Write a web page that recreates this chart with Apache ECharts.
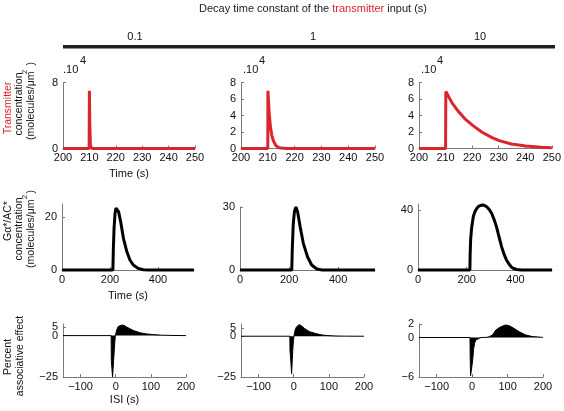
<!DOCTYPE html>
<html><head><meta charset="utf-8">
<script src="https://cdn.jsdelivr.net/npm/echarts@6/dist/echarts.min.js"></script>
<style>html,body{margin:0;padding:0;background:#fff}#c{width:564px;height:411px}</style>
</head><body><div id="c"></div>
<script>
// ---------- data ----------
const decayLabels = ['0.1', '1', '10'];

// Row 1: transmitter concentration (x10^4 molecules/um^2) vs time (s)
const transTau01 = [[200,0],[209.9,0],[210,7],[210.15,3],[210.4,0.3],[211,0],[250,0]];
const transTau1 = [[200,0],[210,0],[210.05,7],[210.5,4.3],[211,2.6],[211.5,1.6],[212,1],[213,0.35],[214,0.13],[215,0.05],[217,0],[250,0]];
const transTau10 = [[200,0],[210,0],[210.1,6.9],[212.3,5.6],[214.8,4.5],[217.3,3.6],[220.2,2.8],[223.6,2.0],[227.3,1.35],[230.2,0.95],[234.8,0.55],[240.2,0.3],[246,0.14],[250,0.08]];

// Row 2: G alpha*/AC* concentration vs time (s)
const gacTau01 = [[0,0],[212,0],[214,8],[217,16],[221,21.4],[225,23.5],[230,24],[236,22],[245,18],[256,12],[270,7],[283,3.8],[297,1.9],[318,0.6],[339,0.1],[360,0],[550,0]];
const gacTau1 = [[0,0],[211,0],[213,10],[217,22],[222,28],[228,30],[235,27.5],[245,20.6],[258,12.7],[275,6.3],[292,2.4],[313,0.5],[335,0],[550,0]];
const gacTau10 = [[0,0],[213,0],[214,10],[216,20],[220,28],[227,35.6],[234,39],[241,41],[250,42.6],[261,43.3],[272,43.1],[282,42.2],[292,40.4],[302,37.8],[312,33.8],[322,28.9],[332,22.5],[343,15.6],[353,10.6],[363,6.7],[374,3.8],[384,1.8],[394,0.8],[404,0.3],[425,0],[550,0]];

// Row 3: percent associative effect vs ISI (s)
const assocTau01 = [[-150,0],[-13,0],[-12.5,-15],[-9,-25],[-6,-15],[-3,-5],[-1,0],[3,3.5],[7,5.5],[12,6.3],[17,6.4],[24,6.1],[31,5.2],[50,3.1],[69,1.7],[88,1.0],[107,0.6],[130,0.25],[160,0.08],[200,0]];
const assocTau1 = [[-150,0],[-11,0],[-10.5,-9],[-8,-16],[-6,-23],[-4,-14],[-2,-6],[0,-1],[1,0],[3,3],[7,5.5],[11,6.7],[15,7.1],[22,6.4],[31,4.7],[45,2.8],[63,1.6],[80,0.8],[95,0.4],[120,0.15],[150,0.03],[200,0]];
const assocTau10 = [[-150,0],[-6,0],[-5.5,-3],[-4.5,-5.8],[-3,-5.9],[-1,-4.5],[2,-3.2],[4,-1.8],[7,-0.85],[11,-0.35],[16,-0.1],[25,0],[40,0.02],[48,0.1],[58,0.4],[67,1.15],[80,1.6],[94,1.9],[104,1.8],[113,1.55],[132,0.9],[150,0.4],[169,0.15],[196,0.03],[200,0]];

// tick labels
const timeTicksZoom = [200,210,220,230,240,250];
const timeTicksFull = [0,200,400];
const isiTicks = [-100,0,100,200];
const transYTicks01 = [0,8];
const transYTicks = [0,2,4,6,8];
const gacYTicks = [[0,20],[0,30],[0,40]];
const assocYTicks = [[-25,0,5],[-25,0,5],[-6,0,2]];

// ---------- layout ----------
const FONT = 'Liberation Sans, Arial, Helvetica, sans-serif';
const RED = '#d9252b';
const AXC = '#7a7a7a';
const minus = v => String(v).replace('-', '\u2212');
const cols = [
  {r1:[63,132], r2:[62,132], r3:[63,123]},
  {r1:[241,134], r2:[240,135], r3:[241,123]},
  {r1:[419,133], r2:[418,134], r3:[419,124]}
];
const grids = [], xAxes = [], yAxes = [], series = [];
function yLabelAxis(gi, yr, values, showAxis) {
  return {
    type: 'value', gridIndex: gi, min: yr[0], max: yr[1], position: 'left',
    axisLine: {show: showAxis, onZero: false, lineStyle: {color: AXC, width: 1}},
    axisTick: {show: showAxis, inside: true, length: 3, customValues: values, lineStyle: {color: AXC}},
    axisLabel: {customValues: values, fontSize: 11, color: '#111', margin: 5, fontFamily: FONT,
      hideOverlap: false, showMinLabel: true, showMaxLabel: true, formatter: minus},
    splitLine: {show: false}
  };
}
function addPanel(left, width, top, height, xr, xt, yr, yt, data, style, xname, gap) {
  const gi = grids.length;
  grids.push({left: left, top: top, width: width, height: height, containLabel: false});
  xAxes.push({
    type: 'value', gridIndex: gi, min: xr[0], max: xr[1],
    name: xname || '', nameLocation: 'middle', nameGap: gap || 20,
    nameTextStyle: {fontSize: 11, color: '#111', fontFamily: FONT},
    axisLine: {onZero: false, lineStyle: {color: AXC, width: 1}},
    axisTick: {inside: true, length: 3, customValues: xt, lineStyle: {color: AXC}},
    axisLabel: {customValues: xt, fontSize: 11, color: '#111', margin: 4, fontFamily: FONT,
      hideOverlap: false, showMinLabel: true, showMaxLabel: true, formatter: minus},
    splitLine: {show: false}
  });
  const yi = yAxes.length;
  // main axis carries all ticks; labels that would collide get their own label-only axis
  const crowded = yt.length === 3 && yt[2] - yt[1] < (yr[1] - yr[0]) / 5;
  if (crowded) {
    const main = yLabelAxis(gi, yr, yt.filter(v => v !== 0), true);
    main.axisTick.customValues = yt;
    yAxes.push(main);
    yAxes.push(yLabelAxis(gi, yr, [0], false));
  } else {
    yAxes.push(yLabelAxis(gi, yr, yt, true));
  }
  series.push(Object.assign({
    type: 'line', xAxisIndex: gi, yAxisIndex: yi, data: data,
    symbol: 'none', showSymbol: false, animation: false, silent: true
  }, style));
}
const redStyle = {lineStyle: {color: RED, width: 3}, clip: false};
const blackStyle = {lineStyle: {color: '#000', width: 3}, clip: false};
const areaStyleS = {lineStyle: {color: '#000', width: 1}, areaStyle: {color: '#000', opacity: 1}};

const transData = [transTau01, transTau1, transTau10];
const gacData = [gacTau01, gacTau1, gacTau10];
const gacMax = [25, 30, 44];
const gacTop = [204, 207, 204];
const assocData = [assocTau01, assocTau1, assocTau10];
const assocRange = [[-25,7],[-25,7.5],[-6,2.05]];

for (let i = 0; i < 3; i++) {
  const c = cols[i];
  addPanel(c.r1[0], c.r1[1], 82.5, 66, [200,250], timeTicksZoom, [0,8], i === 0 ? transYTicks01 : transYTicks,
    transData[i], redStyle, i === 0 ? 'Time (s)' : '', 20);
  addPanel(c.r2[0], c.r2[1], gacTop[i], 270 - gacTop[i], [0,550], timeTicksFull, [0, gacMax[i]], gacYTicks[i],
    gacData[i], blackStyle, i === 0 ? 'Time (s)' : '', 20);
  addPanel(c.r3[0], c.r3[1], 324, 53, [-150,200], isiTicks, assocRange[i], assocYTicks[i],
    assocData[i], areaStyleS, i === 0 ? 'ISI (s)' : '', 17);
}

// ---------- text decorations ----------
const txt = (x, y, text, opts) => Object.assign({
  type: 'text', x: x, y: y, silent: true,
  style: Object.assign({text: text, fontSize: 11, fontFamily: FONT, fill: '#111', align: 'center', verticalAlign: 'middle'}, (opts && opts.style) || {})
}, opts && opts.rotation ? {rotation: opts.rotation} : {});
const R90 = Math.PI / 2;
const graphics = [
  {type: 'text', x: 313, y: 9, silent: true, style: {
    text: '{a|Decay time constant of the }{r|transmitter}{a| input (s)}',
    align: 'center', verticalAlign: 'middle',
    rich: {a: {fontSize: 11, fontFamily: FONT, fill: '#222'}, r: {fontSize: 11, fontFamily: FONT, fill: RED}}
  }},
  txt(135, 37, decayLabels[0]), txt(313, 37, decayLabels[1]), txt(480, 37, decayLabels[2]),
  {type: 'rect', silent: true, shape: {x: 63, y: 45, width: 492, height: 3.5}, style: {fill: '#222'}},
  // x10^4 markers
  txt(63, 70, '.10', {style: {align: 'left'}}), txt(80, 61, '4', {style: {align: 'left'}}),
  txt(243, 70, '.10', {style: {align: 'left'}}), txt(259, 61, '4', {style: {align: 'left'}}),
  txt(421, 70, '.10', {style: {align: 'left'}}), txt(437, 61, '4', {style: {align: 'left'}}),
  // Row 1 y label
  txt(8, 108, 'Transmitter', {rotation: R90, style: {fill: RED, fontSize: 10.5}}),
  txt(19.5, 104, 'concentration', {rotation: R90, style: {fontSize: 10.5}}),
  txt(25, 72, '2', {rotation: R90, style: {fontSize: 8}}),
  txt(31, 101, '(molecules/μm  )', {rotation: R90, style: {fontSize: 10.5}}),
  // Row 2 y label
  txt(8, 221, 'Gα*/AC*', {rotation: R90, style: {fontSize: 10.5}}),
  txt(19.5, 229, 'concentration', {rotation: R90, style: {fontSize: 10.5}}),
  txt(25, 197, '2', {rotation: R90, style: {fontSize: 8}}),
  txt(31, 229, '(molecules/μm  )', {rotation: R90, style: {fontSize: 10.5}}),
  // Row 3 y label
  txt(8, 357, 'Percent', {rotation: R90, style: {fontSize: 10.5}}),
  txt(20, 356, 'associative effect', {rotation: R90, style: {fontSize: 10.5}})
];

const chart = echarts.init(document.getElementById('c'), null, {renderer: 'canvas'});
chart.setOption({
  backgroundColor: '#fff',
  animation: false,
  grid: grids, xAxis: xAxes, yAxis: yAxes, series: series,
  graphic: graphics
});
</script></body></html>
